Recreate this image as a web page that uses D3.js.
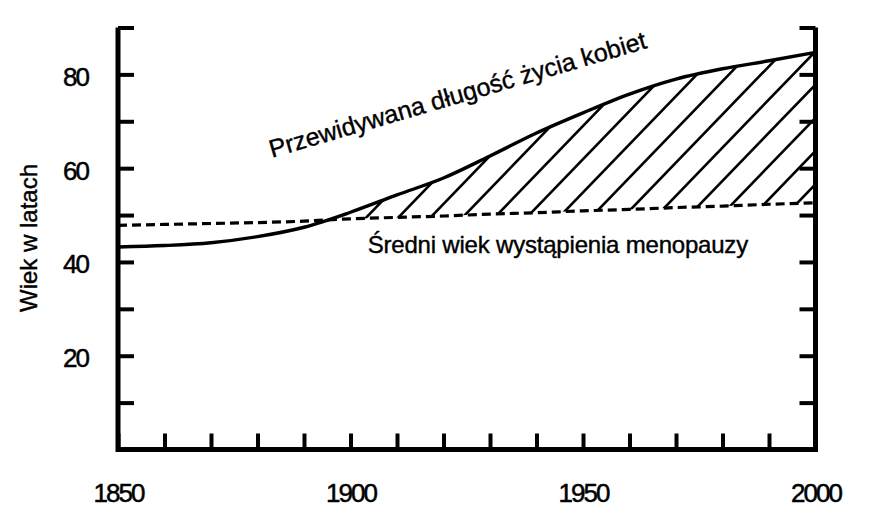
<!DOCTYPE html>
<html>
<head>
<meta charset="utf-8">
<script src="https://cdn.jsdelivr.net/npm/d3@7/dist/d3.min.js"></script>
<style>
  html, body { margin: 0; padding: 0; background: #fff; }
  svg { display: block; }
  text { font-family: "Liberation Sans", Arial, Helvetica, sans-serif; fill: #000; }
</style>
</head>
<body>
<svg id="chart" width="869" height="525"></svg>
<script>
// ---- data ----
const years = [1850, 1860, 1870, 1880, 1890, 1900, 1910, 1920, 1930, 1940, 1950, 1960, 1970, 1980, 1990, 2000];
const lifeExpectancy = [43.2, 43.5, 44.1, 45.4, 47.4, 50.6, 54.3, 57.9, 62.6, 67.5, 71.8, 75.8, 79.0, 81.2, 82.9, 84.7];
const menopauseAge = [47.8, 48.0, 48.2, 48.4, 48.7, 49.2, 49.5, 49.8, 50.2, 50.5, 50.9, 51.2, 51.6, 51.9, 52.3, 52.6];
const xTickValues = [1850, 1860, 1870, 1880, 1890, 1900, 1910, 1920, 1930, 1940, 1950, 1960, 1970, 1980, 1990, 2000];
const xTickLabels = [1850, 1900, 1950, 2000];
const yTickValues = [10, 20, 30, 40, 50, 60, 70, 80, 90];
const yTickLabels = [20, 40, 60, 80];
const lifeLabel = "Przewidywana długość życia kobiet";
const menoLabel = "Średni wiek wystąpienia menopauzy";
const yTitle = "Wiek w latach";
// hatch spacing (years) and start year
const hatchStart = 1897;
const hatchStep = 6.9;

const svg = d3.select("#chart");
const x = d3.scaleLinear().domain([1850, 2000]).range([118, 815.5]);
const y = d3.scaleLinear().domain([0, 90]).range([449.5, 27.5]);

const lifeData = years.map((yr, i) => ({ yr, v: lifeExpectancy[i] }));
const menoData = years.map((yr, i) => ({ yr, v: menopauseAge[i] }));

const line = d3.line().x(d => x(d.yr)).y(d => y(d.v)).curve(d3.curveMonotoneX);

// clip regions: below life expectancy, above menopause
const defs = svg.append("defs");
defs.append("clipPath").attr("id", "belowLife")
  .append("path")
  .attr("d", d3.area().x(d => x(d.yr)).y0(y(0)).y1(d => y(d.v)).curve(d3.curveMonotoneX)(lifeData));
defs.append("clipPath").attr("id", "aboveMeno")
  .append("path")
  .attr("d", d3.area().x(d => x(d.yr)).y0(y(90)).y1(d => y(d.v)).curve(d3.curveMonotoneX)(menoData));

// hatching
const angle = 46 * Math.PI / 180;
const hatchYears = d3.range(hatchStart, 2010, hatchStep);
const anchorY = y(50);
const hatchG = svg.append("g").attr("clip-path", "url(#belowLife)")
  .append("g").attr("clip-path", "url(#aboveMeno)");
hatchG.selectAll("line.hatch").data(hatchYears).join("line")
  .attr("class", "hatch")
  .attr("x1", d => x(d) - 300 / Math.tan(angle))
  .attr("y1", anchorY + 300)
  .attr("x2", d => x(d) + 300 / Math.tan(angle))
  .attr("y2", anchorY - 300)
  .attr("stroke", "#000").attr("stroke-width", 2.6);

// curves
svg.append("path").attr("d", line(menoData))
  .attr("fill", "none").attr("stroke", "#000").attr("stroke-width", 3.2)
  .attr("stroke-dasharray", "9,5");
svg.append("path").attr("d", line(lifeData))
  .attr("fill", "none").attr("stroke", "#000").attr("stroke-width", 3.4);

// axes
const tickLen = 16;
const fontAxis = 26;
const gl = svg.append("g").attr("transform", `translate(${x(1850)},0)`)
  .call(d3.axisLeft(y).tickValues(yTickValues).tickSize(-tickLen).tickPadding(30)
    .tickFormat(d => yTickLabels.includes(d) ? d : ""));
const gr = svg.append("g").attr("transform", `translate(${x(2000)},0)`)
  .call(d3.axisRight(y).tickValues(yTickValues).tickSize(-tickLen).tickFormat(() => ""));
const gb = svg.append("g").attr("transform", `translate(0,${y(0)})`)
  .call(d3.axisBottom(x).tickValues(xTickValues).tickSize(-tickLen).tickPadding(34)
    .tickFormat(d => xTickLabels.includes(d) ? d : ""));

[gl, gr, gb].forEach(g => {
  g.select(".domain").remove();
  g.selectAll(".tick line").attr("stroke", "#000").attr("stroke-width", 4);
  g.selectAll(".tick text")
    .style("font-size", fontAxis + "px")
    .style("letter-spacing", "-2px")
    .attr("fill", "#000").attr("stroke", "#000").attr("stroke-width", 0.5);
});
gl.selectAll(".tick text").attr("dy", "0.42em");

// frame lines (left, bottom, right)
svg.append("path")
  .attr("d", `M${x(1850)},${y(90)} V${y(0)} H${x(2000)} V${y(90)}`)
  .attr("fill", "none").attr("stroke", "#000").attr("stroke-width", 5)
  .attr("stroke-linejoin", "miter");

// annotations
svg.append("text")
  .attr("transform", `translate(${x(1883.1)},${y(62.2)}) rotate(-16.3)`)
  .style("font-size", "25px").attr("stroke", "#000").attr("stroke-width", 0.4)
  .text(lifeLabel);
svg.append("text")
  .attr("x", x(1903.7)).attr("y", y(41.9))
  .style("font-size", "24px").style("letter-spacing", "-0.2px")
  .attr("stroke", "#000").attr("stroke-width", 0.4)
  .text(menoLabel);
svg.append("text")
  .attr("transform", `translate(37,238) rotate(-90)`)
  .attr("text-anchor", "middle")
  .style("font-size", "24px").attr("stroke", "#000").attr("stroke-width", 0.4)
  .text(yTitle);
</script>
</body>
</html>
